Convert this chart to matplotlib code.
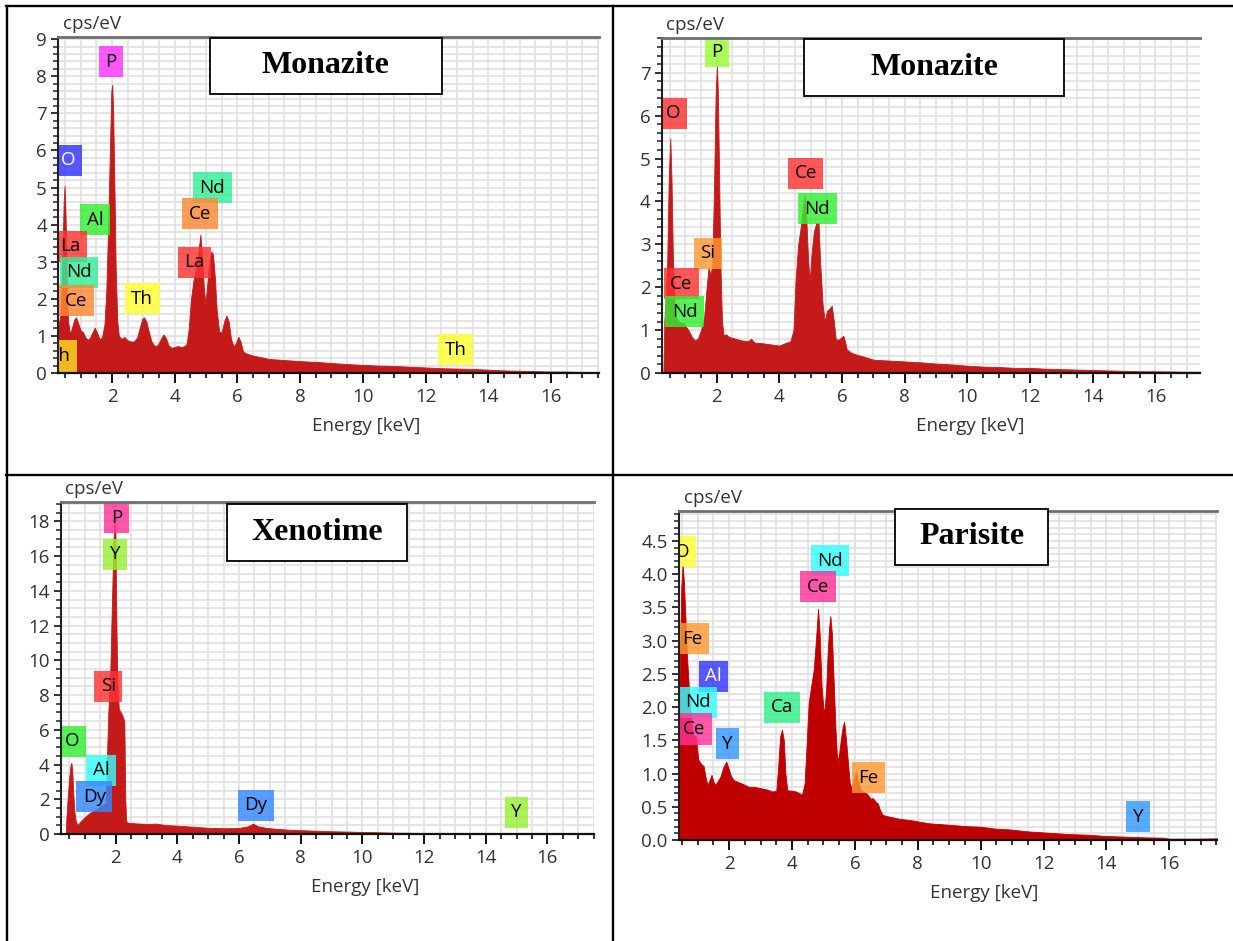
import matplotlib
matplotlib.use('Agg')
import matplotlib.pyplot as plt
from matplotlib.patches import Rectangle
from matplotlib.lines import Line2D
from matplotlib.ticker import MultipleLocator, FormatStrFormatter

W, H = 1233, 941
plt.rcParams['font.family'] = ['Open Sans', 'DejaVu Sans']

# ---------------- data ----------------
# Panel 1 : Monazite (top-left)
p1_energy = [0.28, 0.36, 0.42, 0.46, 0.49, 0.52, 0.56, 0.60, 0.66, 0.72, 0.80, 0.86, 0.92, 1.00,
             1.08, 1.16, 1.24, 1.30, 1.38, 1.45, 1.52, 1.60, 1.68, 1.76, 1.82, 1.88, 1.94, 1.98,
             2.01, 2.04, 2.08, 2.12, 2.17, 2.22, 2.30, 2.40, 2.50, 2.60, 2.70, 2.80, 2.88, 2.96,
             3.02, 3.10, 3.18, 3.26, 3.36, 3.46, 3.56, 3.64, 3.72, 3.80, 3.90, 4.00, 4.10, 4.20,
             4.30, 4.38, 4.45, 4.52, 4.60, 4.68, 4.76, 4.82, 4.87, 4.93, 4.98, 5.04, 5.10, 5.17,
             5.22, 5.28, 5.34, 5.42, 5.50, 5.58, 5.65, 5.72, 5.80, 5.88, 5.95, 6.03, 6.10, 6.18,
             6.30, 6.50, 6.80, 7.00, 7.50, 8.00, 8.50, 9.00, 9.50, 10.0, 10.5, 11.0, 11.5, 12.0,
             12.5, 13.0, 13.5, 14.0, 14.5, 15.0, 15.5, 16.0, 16.5, 17.0, 17.53]
p1_counts = [1.2, 1.6, 3.0, 4.6, 5.05, 4.3, 2.5, 1.4, 1.05, 1.2, 1.45, 1.5, 1.35, 1.15,
             1.1, 0.95, 0.9, 0.95, 1.1, 1.22, 1.1, 0.92, 0.95, 1.3, 2.2, 4.0, 6.2, 7.6,
             7.77, 7.0, 5.0, 2.8, 1.4, 1.0, 0.92, 0.97, 0.88, 0.85, 0.85, 0.95, 1.2, 1.45,
             1.5, 1.38, 1.1, 0.85, 0.73, 0.75, 0.92, 1.04, 0.95, 0.75, 0.68, 0.70, 0.73, 0.70,
             0.72, 0.78, 1.2, 2.0, 2.5, 2.8, 3.3, 3.73, 3.2, 2.3, 1.85, 2.4, 3.0, 3.28,
             3.2, 2.6, 1.7, 1.1, 1.1, 1.4, 1.55, 1.4, 0.9, 0.72, 0.8, 0.98, 0.85, 0.58,
             0.52, 0.47, 0.42, 0.38, 0.35, 0.32, 0.30, 0.27, 0.24, 0.22, 0.20, 0.19, 0.17, 0.15,
             0.13, 0.12, 0.11, 0.09, 0.07, 0.06, 0.05, 0.04, 0.04, 0.03, 0.03]
p1_lab_text = ['P', 'O', 'Nd', 'Ce', 'La', 'Al', 'La', 'Nd', 'Ce', 'Th', 'Th', 'Th']
p1_lab_x = [1.97, 0.60, 5.20, 4.81, 4.63, 1.47, 0.66, 0.95, 0.87, 2.96, 0.33, 12.97]
p1_lab_y = [8.39, 5.73, 5.00, 4.30, 2.98, 4.13, 3.42, 2.71, 1.95, 2.00, 0.46, 0.63]
p1_lab_col = ['#ff33ff', '#3333ff', '#33ee99', '#ff8833', '#ff3333', '#33ee33',
              '#ff3333', '#33ee99', '#ff8833', '#ffff33', '#ffdd22', '#ffff33']
p1_lab_txt = ['k', 'w', 'k', 'k', 'k', 'k', 'k', 'k', 'k', 'k', 'k', 'k']

# Panel 2 : Monazite (top-right)
p2_energy = [0.30, 0.33, 0.42, 0.47, 0.52, 0.56, 0.60, 0.66, 0.70, 0.80, 0.95, 1.10, 1.20, 1.30,
             1.40, 1.50, 1.60, 1.68, 1.74, 1.80, 1.86, 1.92, 1.97, 2.01, 2.04, 2.08, 2.12, 2.17,
             2.22, 2.30, 2.40, 2.60, 2.80, 3.00, 3.10, 3.20, 3.40, 3.60, 3.80, 4.00, 4.20, 4.35,
             4.45, 4.52, 4.60, 4.68, 4.76, 4.81, 4.86, 4.92, 4.97, 5.03, 5.10, 5.18, 5.25, 5.30,
             5.38, 5.45, 5.52, 5.60, 5.67, 5.74, 5.80, 5.90, 6.04, 6.10, 6.15, 6.30, 6.50, 6.80,
             7.00, 7.50, 8.00, 8.50, 9.00, 9.50, 10.0, 10.5, 11.0, 11.5, 12.0, 12.5, 13.0, 13.5,
             14.0, 14.5, 15.0, 15.5, 16.0, 17.0, 17.42]
p2_counts = [0.0, 1.2, 2.5, 4.5, 5.47, 4.5, 2.8, 1.5, 1.3, 1.2, 1.15, 1.0, 0.85, 0.76,
             0.80, 1.0, 1.3, 2.0, 2.45, 2.3, 2.5, 4.5, 6.6, 7.15, 6.5, 4.5, 2.5, 1.2,
             0.88, 0.90, 0.84, 0.80, 0.76, 0.74, 0.80, 0.71, 0.70, 0.68, 0.66, 0.64, 0.70, 0.74,
             1.0, 2.2, 3.0, 3.4, 3.9, 4.15, 3.6, 2.6, 2.15, 2.8, 3.3, 3.5, 3.5, 2.6,
             1.6, 1.2, 1.45, 1.5, 1.57, 1.2, 0.78, 0.78, 0.87, 0.72, 0.55, 0.47, 0.42, 0.36,
             0.31, 0.29, 0.27, 0.25, 0.22, 0.20, 0.17, 0.15, 0.14, 0.12, 0.12, 0.10, 0.09, 0.08,
             0.07, 0.06, 0.05, 0.04, 0.04, 0.03, 0.03]
p2_lab_text = ['P', 'O', 'Ce', 'Nd', 'Si', 'Ce', 'Nd']
p2_lab_x = [2.01, 0.62, 4.84, 5.21, 1.71, 0.88, 0.98]
p2_lab_y = [7.49, 6.05, 4.66, 3.83, 2.79, 2.08, 1.43]
p2_lab_col = ['#99ff33', '#ff3333', '#ff3333', '#33ee33', '#ff9933', '#ff3333', '#33ee33']
p2_lab_txt = ['k'] * 7

# Panel 3 : Xenotime (bottom-left)
p3_energy = [0.21, 0.38, 0.40, 0.44, 0.49, 0.53, 0.56, 0.59, 0.62, 0.66, 0.71, 0.77, 0.85, 0.95,
             1.05, 1.15, 1.25, 1.35, 1.45, 1.55, 1.68, 1.71, 1.76, 1.82, 1.88, 1.93, 1.96, 1.99,
             2.02, 2.05, 2.10, 2.20, 2.28, 2.31, 2.34, 2.40, 2.60, 2.80, 3.00, 3.30, 3.60, 4.00,
             4.50, 5.00, 5.50, 6.00, 6.30, 6.45, 6.60, 6.90, 7.20, 7.60, 8.00, 8.50, 9.00, 9.50,
             10.0, 10.5, 11.0, 11.5, 12.0, 13.0, 14.0, 15.0, 15.20, 15.22, 17.51]
p3_counts = [0.0, 0.0, 0.9, 2.0, 3.2, 3.9, 4.1, 3.7, 2.5, 1.3, 0.7, 0.52, 0.70, 0.90,
             1.05, 1.2, 1.3, 1.4, 1.5, 1.65, 1.8, 4.0, 7.0, 9.0, 13.5, 17.0, 17.9, 17.3,
             12.5, 9.0, 7.2, 6.9, 6.5, 2.0, 0.75, 0.65, 0.62, 0.60, 0.58, 0.60, 0.52, 0.48,
             0.42, 0.36, 0.33, 0.35, 0.45, 0.60, 0.45, 0.35, 0.30, 0.25, 0.22, 0.19, 0.16, 0.14,
             0.12, 0.10, 0.08, 0.07, 0.06, 0.05, 0.05, 0.04, 0.04, 0.0, 0.0]
p3_lab_text = ['P', 'Y', 'Si', 'O', 'Al', 'Dy', 'Dy', 'Y']
p3_lab_x = [2.03, 1.98, 1.76, 0.60, 1.53, 1.31, 6.55, 15.0]
p3_lab_y = [18.2, 16.1, 8.5, 5.35, 3.66, 2.15, 1.66, 1.24]
p3_lab_col = ['#ff3399', '#99ee33', '#ff3333', '#33ee33', '#33ffff', '#3388ff', '#3388ff', '#99ee33']
p3_lab_txt = ['k'] * 8

# Panel 4 : Parisite (bottom-right)
p4_energy = [0.40, 0.44, 0.48, 0.52, 0.56, 0.60, 0.66, 0.75, 0.82, 0.87, 0.94, 1.02, 1.10, 1.19,
             1.25, 1.31, 1.38, 1.44, 1.50, 1.56, 1.63, 1.72, 1.82, 1.91, 1.98, 2.06, 2.15, 2.25,
             2.40, 2.63, 2.80, 3.00, 3.20, 3.38, 3.50, 3.56, 3.62, 3.68, 3.74, 3.79, 3.85, 4.00,
             4.13, 4.25, 4.32, 4.40, 4.45, 4.53, 4.62, 4.69, 4.76, 4.83, 4.88, 4.94, 5.00, 5.04,
             5.09, 5.13, 5.18, 5.22, 5.27, 5.32, 5.38, 5.44, 5.50, 5.55, 5.61, 5.66, 5.72, 5.78,
             5.84, 5.90, 5.96, 6.03, 6.10, 6.19, 6.28, 6.38, 6.50, 6.57, 6.65, 6.73, 6.80, 6.88,
             7.00, 7.13, 7.40, 7.76, 8.00, 8.39, 9.00, 9.50, 10.0, 10.5, 10.9, 11.5, 12.14, 12.8,
             13.4, 14.0, 14.65, 15.2, 15.8, 16.0, 16.8, 17.53]
p4_counts = [1.8, 2.8, 3.8, 4.15, 3.9, 3.47, 2.77, 2.06, 1.7, 1.56, 1.56, 1.21, 1.15, 1.11,
             0.95, 0.83, 0.90, 0.98, 0.88, 0.83, 0.88, 0.95, 1.10, 1.18, 1.08, 0.96, 0.90, 0.88,
             0.85, 0.80, 0.80, 0.78, 0.76, 0.73, 0.74, 1.10, 1.55, 1.66, 1.50, 1.00, 0.75, 0.74,
             0.73, 0.70, 0.68, 0.85, 1.30, 2.06, 2.35, 2.56, 3.00, 3.48, 3.10, 2.31, 1.98, 1.96,
             2.30, 2.77, 3.20, 3.37, 3.10, 2.46, 1.70, 1.16, 1.30, 1.50, 1.70, 1.78, 1.50, 1.16,
             0.85, 0.78, 0.90, 1.03, 0.90, 0.75, 0.72, 0.70, 0.62, 0.63, 0.58, 0.55, 0.45, 0.38,
             0.36, 0.35, 0.32, 0.30, 0.28, 0.25, 0.23, 0.21, 0.20, 0.17, 0.16, 0.13, 0.11, 0.09,
             0.08, 0.06, 0.05, 0.04, 0.035, 0.02, 0.02, 0.025]
p4_lab_text = ['O', 'Nd', 'Ce', 'Fe', 'Al', 'Nd', 'Ce', 'Y', 'Ca', 'Fe', 'Y']
p4_lab_x = [0.52, 5.21, 4.83, 0.82, 1.50, 1.00, 0.90, 1.95, 3.68, 6.44, 15.0]
p4_lab_y = [4.34, 4.20, 3.81, 3.03, 2.46, 2.07, 1.67, 1.45, 2.00, 0.94, 0.35]
p4_lab_col = ['#ffff33', '#33ffff', '#ff3399', '#ff9933', '#3333ff', '#33ffff', '#ff3399',
              '#3399ff', '#33ee88', '#ff9933', '#3399ff']
p4_lab_txt = ['k', 'k', 'k', 'k', 'w', 'k', 'k', 'k', 'k', 'k', 'k']

titles = ['Monazite', 'Monazite', 'Xenotime', 'Parisite']

# ---------------- layout ----------------
fig = plt.figure(figsize=(W / 100, H / 100), dpi=100)
fig.patch.set_facecolor('white')

TICK_COL = '#333333'


def add_axes_px(l, r, t, b):
    return fig.add_axes([l / W, 1 - b / H, (r - l) / W, (b - t) / H])


def draw_panel(box, xlim, ylim, ymaj, ymin, yfmt, energy, counts, fill_col,
               lt, lx, ly, lc, ltc):
    ax = add_axes_px(*box)
    ax.set_xlim(*xlim)
    ax.set_ylim(*ylim)
    ax.set_facecolor('white')
    ax.set_axisbelow(True)
    ax.xaxis.set_major_locator(MultipleLocator(2))
    ax.xaxis.set_minor_locator(MultipleLocator(0.5))
    ax.yaxis.set_major_locator(MultipleLocator(ymaj))
    ax.yaxis.set_minor_locator(MultipleLocator(ymin))
    ax.yaxis.set_major_formatter(FormatStrFormatter(yfmt))
    ax.grid(True, which='both', color='#e0e0e0', lw=1.2)
    ax.fill_between(energy, 0, counts, color=fill_col, lw=0.6, edgecolor=fill_col, zorder=2)
    for t, x, y, c, tc in zip(lt, lx, ly, lc, ltc):
        ax.text(x, y, t, ha='center', va='center', fontsize=13.5, color=tc, zorder=4,
                clip_on=True,
                bbox=dict(boxstyle='square,pad=0.35', fc=c, ec='none', alpha=0.82))
    ax.spines['right'].set_visible(False)
    ax.spines['top'].set_color('#6e6e6e')
    ax.spines['top'].set_linewidth(2.0)
    ax.spines['left'].set_color('#222222')
    ax.spines['left'].set_linewidth(1.5)
    ax.spines['bottom'].set_color('#111111')
    ax.spines['bottom'].set_linewidth(1.6)
    for sp in ax.spines.values():
        sp.set_zorder(5)
    ax.tick_params(axis='y', which='major', direction='out', length=5, width=1.3,
                   color='#222222', labelsize=13.5, labelcolor=TICK_COL, pad=3)
    ax.tick_params(axis='y', which='minor', direction='out', length=3.5, width=1.1,
                   color='#222222')
    ax.tick_params(axis='x', which='major', direction='out', length=7, width=1.4,
                   color='#111111', labelsize=13.5, labelcolor=TICK_COL, pad=4)
    ax.tick_params(axis='x', which='minor', direction='out', length=3.5, width=1.2,
                   color='#111111')
    ax.annotate('Energy [keV]', xy=(10.1, 0), xycoords=('data', 'axes fraction'),
                xytext=(0, -38), textcoords='offset points', ha='center', va='center',
                fontsize=13.5, color=TICK_COL, annotation_clip=False)
    ax.annotate('cps/eV', xy=(0, 1), xycoords='axes fraction', xytext=(3.5, 9.5),
                textcoords='offset points', ha='left', va='center', fontsize=13.5,
                color=TICK_COL)
    return ax


draw_panel((58, 599, 37, 373), (0.28, 17.53), (0, 9.06), 1, 0.2, '%d',
           p1_energy, p1_counts, '#c41a1a',
           p1_lab_text, p1_lab_x, p1_lab_y, p1_lab_col, p1_lab_txt)
draw_panel((661.5, 1200, 38, 373), (0.24, 17.42), (0, 7.81), 1, 0.2, '%d',
           p2_energy, p2_counts, '#c41a1a',
           p2_lab_text, p2_lab_x, p2_lab_y, p2_lab_col, p2_lab_txt)
draw_panel((60.5, 594, 502.3, 834), (0.21, 17.51), (0, 19.1), 2, 0.5, '%d',
           p3_energy, p3_counts, '#c41a1a',
           p3_lab_text, p3_lab_x, p3_lab_y, p3_lab_col, p3_lab_txt)
draw_panel((678.8, 1217.4, 511, 840), (0.40, 17.53), (0, 4.95), 0.5, 0.1, '%.1f',
           p4_energy, p4_counts, '#c00000',
           p4_lab_text, p4_lab_x, p4_lab_y, p4_lab_col, p4_lab_txt)

# title boxes (pixel boxes: left, right, top, bottom)
title_boxes = [(209.5, 441.5, 37.5, 93.5), (804, 1064, 39.5, 96), (227, 407, 504, 560.5),
               (895.5, 1047.5, 508.5, 565)]
for name, (l, r, t, b) in zip(titles, title_boxes):
    fig.add_artist(Rectangle((l / W, 1 - b / H), (r - l) / W, (b - t) / H,
                             transform=fig.transFigure, fc='white', ec='black', lw=1.3,
                             zorder=10))
    fig.text((l + r) / 2 / W, 1 - (t + b) / 2 / H, name, ha='center', va='center',
             fontsize=23, fontweight='bold', family='Liberation Serif', zorder=11)


# table borders
def hline(y, x0, x1, lw=1.7):
    fig.add_artist(Line2D([x0 / W, x1 / W], [1 - y / H, 1 - y / H], transform=fig.transFigure,
                          color='black', lw=lw, zorder=12))


def vline(x, y0, y1, lw=1.7):
    fig.add_artist(Line2D([x / W, x / W], [1 - y0 / H, 1 - y1 / H], transform=fig.transFigure,
                          color='black', lw=lw, zorder=12))


hline(6, 6, 1233)
hline(475, 6, 1233)
vline(7, 6, 941)
vline(613, 6, 941)

fig.savefig('out.png', dpi=100)
